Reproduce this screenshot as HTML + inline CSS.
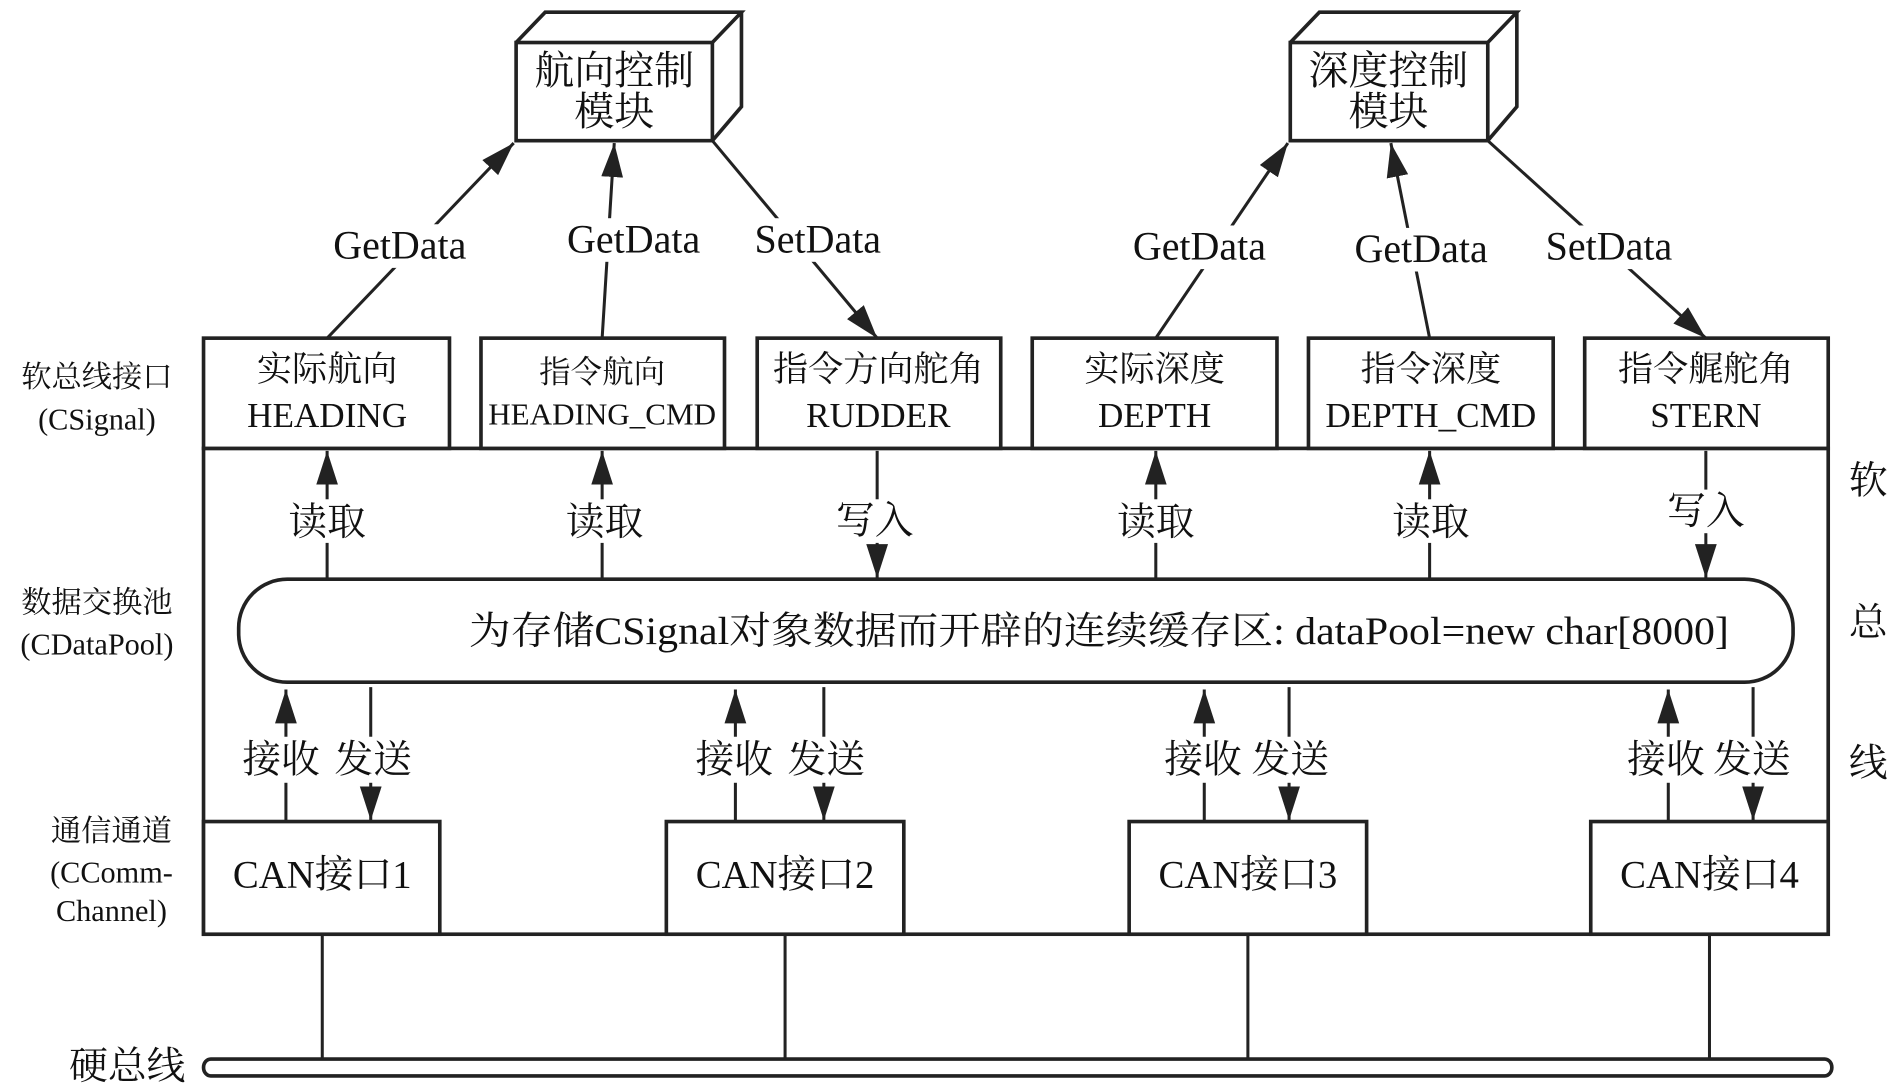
<!DOCTYPE html>
<html><head><meta charset="utf-8"><style>
html,body{margin:0;padding:0;background:#fff;}
svg{display:block;}
text{font-family:"Liberation Serif","Noto Serif CJK SC",serif;fill:#111;text-anchor:middle;dominant-baseline:central;}
</style></head><body>
<svg width="1890" height="1087" viewBox="0 0 1560 897" xmlns="http://www.w3.org/2000/svg">
<defs>
<marker id="a" markerUnits="userSpaceOnUse" markerWidth="30" markerHeight="20" refX="28" refY="9" orient="auto">
<path d="M0,0 L28,9 L0,18 z" fill="#222"/>
</marker>
</defs>
<g stroke="#222" fill="none" stroke-width="3">
<rect x="426" y="35" width="162" height="81" fill="#fff"/>
<path d="M426,35 L450,10 L612,10 L588,35 M612,10 L612,88 L588,116"/>
<rect x="1065" y="35" width="163" height="81" fill="#fff"/>
<path d="M1065,35 L1089,10 L1252,10 L1228,35 M1252,10 L1252,88 L1228,116"/>
<rect x="168" y="370" width="1341" height="401"/>
<rect x="168" y="279" width="203" height="91" fill="#fff"/>
<rect x="397" y="279" width="201" height="91" fill="#fff"/>
<rect x="625" y="279" width="201" height="91" fill="#fff"/>
<rect x="852" y="279" width="202" height="91" fill="#fff"/>
<rect x="1080" y="279" width="202" height="91" fill="#fff"/>
<rect x="1308" y="279" width="201" height="91" fill="#fff"/>
<rect x="197" y="478" width="1283" height="85" rx="40" ry="40" fill="#fff"/>
<rect x="168" y="678" width="195" height="93" fill="#fff"/>
<rect x="550" y="678" width="196" height="93" fill="#fff"/>
<rect x="932" y="678" width="196" height="93" fill="#fff"/>
<rect x="1313" y="678" width="196" height="93" fill="#fff"/>
<path d="M174,874 L1506,874 A6,7 0 0 1 1506,888 L174,888 A6,7 0 0 1 174,874 z"/>
</g>
<g stroke="#222" stroke-width="2.5" fill="none">
<line x1="270" y1="279" x2="424" y2="118" marker-end="url(#a)"/>
<line x1="497" y1="279" x2="507" y2="118" marker-end="url(#a)"/>
<line x1="588" y1="116" x2="724" y2="279" marker-end="url(#a)"/>
<line x1="954" y1="279" x2="1063" y2="118" marker-end="url(#a)"/>
<line x1="1180" y1="279" x2="1148" y2="118" marker-end="url(#a)"/>
<line x1="1228" y1="116" x2="1408" y2="279" marker-end="url(#a)"/>
<line x1="270" y1="478" x2="270" y2="372" marker-end="url(#a)"/>
<line x1="497" y1="478" x2="497" y2="372" marker-end="url(#a)"/>
<line x1="724" y1="372" x2="724" y2="477" marker-end="url(#a)"/>
<line x1="954" y1="478" x2="954" y2="372" marker-end="url(#a)"/>
<line x1="1180" y1="478" x2="1180" y2="372" marker-end="url(#a)"/>
<line x1="1408" y1="372" x2="1408" y2="477" marker-end="url(#a)"/>
<line x1="236" y1="678" x2="236" y2="569" marker-end="url(#a)"/>
<line x1="306" y1="567" x2="306" y2="677" marker-end="url(#a)"/>
<line x1="607" y1="678" x2="607" y2="569" marker-end="url(#a)"/>
<line x1="680" y1="567" x2="680" y2="677" marker-end="url(#a)"/>
<line x1="994" y1="678" x2="994" y2="569" marker-end="url(#a)"/>
<line x1="1064" y1="567" x2="1064" y2="677" marker-end="url(#a)"/>
<line x1="1377" y1="678" x2="1377" y2="569" marker-end="url(#a)"/>
<line x1="1447" y1="567" x2="1447" y2="677" marker-end="url(#a)"/>
<line x1="266" y1="771" x2="266" y2="874"/>
<line x1="648" y1="771" x2="648" y2="874"/>
<line x1="1030" y1="771" x2="1030" y2="874"/>
<line x1="1411" y1="771" x2="1411" y2="874"/>
</g>
<g fill="#fff">
<rect x="272" y="185" width="116" height="36"/>
<rect x="464" y="180" width="118" height="36"/>
<rect x="618" y="180" width="114" height="36"/>
<rect x="930" y="186" width="120" height="36"/>
<rect x="1114" y="188" width="118" height="36"/>
<rect x="1272" y="186" width="112" height="36"/>
<rect x="236" y="412" width="70" height="36"/>
<rect x="464" y="412" width="70" height="36"/>
<rect x="688" y="412" width="70" height="36"/>
<rect x="920" y="412" width="70" height="36"/>
<rect x="1146" y="412" width="70" height="36"/>
<rect x="1374" y="404" width="70" height="36"/>
<rect x="198" y="608" width="146" height="38"/>
<rect x="572" y="608" width="146" height="38"/>
<rect x="958" y="608" width="142" height="38"/>
<rect x="1340" y="608" width="142" height="38"/>
</g>
<g font-size="33">
<text x="507" y="58">航向控制</text>
<text x="507" y="92">模块</text>
<text x="1146" y="58">深度控制</text>
<text x="1146" y="92">模块</text>
<text x="330" y="202">GetData</text>
<text x="523" y="197">GetData</text>
<text x="675" y="197">SetData</text>
<text x="990" y="203">GetData</text>
<text x="1173" y="205">GetData</text>
<text x="1328" y="203">SetData</text>
</g>
<g font-size="29">
<text x="270" y="305">实际航向</text>
<text x="270" y="343">HEADING</text>
<text x="497" y="307" font-size="26">指令航向</text>
<text x="497" y="342" font-size="25" textLength="188" lengthAdjust="spacingAndGlyphs">HEADING_CMD</text>
<text x="725" y="305">指令方向舵角</text>
<text x="725" y="343">RUDDER</text>
<text x="953" y="305">实际深度</text>
<text x="953" y="343">DEPTH</text>
<text x="1181" y="305">指令深度</text>
<text x="1181" y="343">DEPTH_CMD</text>
<text x="1408" y="305">指令艉舵角</text>
<text x="1408" y="343">STERN</text>
</g>
<g font-size="32">
<text x="270" y="431">读取</text>
<text x="499" y="431">读取</text>
<text x="722" y="430">写入</text>
<text x="954" y="431">读取</text>
<text x="1181" y="431">读取</text>
<text x="1408" y="422">写入</text>
<text x="907" y="521" textLength="1040" lengthAdjust="spacingAndGlyphs">为存储CSignal对象数据而开辟的连续缓存区: dataPool=new char[8000]</text>
<text x="232" y="627">接收</text><text x="308" y="627">发送</text>
<text x="606" y="627">接收</text><text x="682" y="627">发送</text>
<text x="993" y="627">接收</text><text x="1065" y="627">发送</text>
<text x="1375" y="627">接收</text><text x="1446" y="627">发送</text>
<text x="266" y="722">CAN接口1</text>
<text x="648" y="722">CAN接口2</text>
<text x="1030" y="722">CAN接口3</text>
<text x="1411" y="722">CAN接口4</text>
<text x="1542" y="397">软</text>
<text x="1542" y="514">总</text>
<text x="1542" y="630">线</text>
<text x="105" y="880">硬总线</text>
</g>
<g font-size="25">
<text x="80" y="311">软总线接口</text>
<text x="80" y="346">(CSignal)</text>
<text x="80" y="497">数据交换池</text>
<text x="80" y="532">(CDataPool)</text>
<text x="92" y="686">通信通道</text>
<text x="92" y="720">(CComm-</text>
<text x="92" y="752">Channel)</text>
</g>
</svg>
</body></html>
